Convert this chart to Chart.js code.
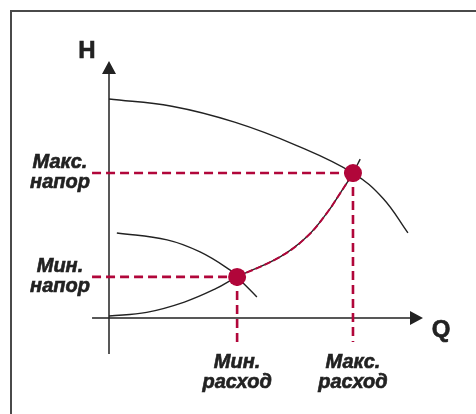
<!DOCTYPE html>
<html>
<head>
<meta charset="utf-8">
<script src="https://cdn.jsdelivr.net/npm/chart.js@4.4.0/dist/chart.umd.min.js"></script>
<style>
  html, body { margin: 0; padding: 0; background: #fff; }
  canvas { display: block; }
</style>
</head>
<body>
<canvas id="myChart" width="476" height="414"></canvas>
<script>
// Q (flow) / H (head) values, axes run 0..100
var pumpMaxQ = [0, 20, 40, 60, 77.7, 87.3, 95.2];
var pumpMaxH = [85.2, 82.4, 76.2, 67.0, 56.4, 46.5, 33.1];

var pumpMinQ = [2.5, 18.5, 29.0, 38.5, 40.8, 47.1];
var pumpMinH = [33.1, 30.4, 25.7, 18.7, 16.0, 8.2];

var systemQ = [0, 12, 24, 34, 40.8, 54.5, 63, 69.3, 73.6, 77.7, 80.0];
var systemH = [0.8, 2.2, 6.2, 11.4, 16.0, 23.8, 31.6, 40.7, 48.5, 56.4, 61.8];

// operating points: [min, max]
var dutyQ = [40.8, 77.7];
var dutyH = [16.0, 56.4];

var headLabels = [['Мин.', 'напор'], ['Макс.', 'напор']];
var flowLabels = [['Мин.', 'расход'], ['Макс.', 'расход']];
var axisTitles = {x: 'Q', y: 'H'};

// how far the guides / axes run past the origin
var guideStartQ = -5.4;
var guideEndH = -9.3;
var axisStartQ = -5.4;
var axisEndH = -14;

var red = '#b1063a';
var ink = '#222222';

function pts(xs, ys) {
  return xs.map(function (x, i) { return {x: x, y: ys[i]}; });
}

var systemRed = pts(systemQ, systemH).filter(function (p) {
  return p.x >= dutyQ[0] && p.x <= dutyQ[1];
});

var guides = [];
for (var i = 0; i < dutyQ.length; i++) {
  guides.push([{x: guideStartQ, y: dutyH[i]}, {x: dutyQ[i], y: dutyH[i]}]);
  guides.push([{x: dutyQ[i], y: dutyH[i]}, {x: dutyQ[i], y: guideEndH}]);
}

var curveStyle = {
  showLine: true, borderColor: ink, borderWidth: 1.4, pointRadius: 0,
  tension: 0.4, clip: false, order: 3
};

var datasets = [
  {
    data: pts(dutyQ, dutyH), showLine: false, pointRadius: 9,
    pointBackgroundColor: red, pointBorderWidth: 0, clip: false, order: 0
  },
  Object.assign({data: pts(pumpMaxQ, pumpMaxH)}, curveStyle),
  Object.assign({data: pts(pumpMinQ, pumpMinH)}, curveStyle),
  Object.assign({data: pts(systemQ, systemH)}, curveStyle),
  {
    data: systemRed, showLine: true, borderColor: red, borderWidth: 2,
    borderDash: [7, 3], pointRadius: 0, tension: 0.4, clip: false, order: 2
  }
];
guides.forEach(function (g) {
  datasets.push({
    data: g, showLine: true, borderColor: red, borderWidth: 2.6,
    borderDash: [9, 5], pointRadius: 0, tension: 0, clip: false, order: 1
  });
});

var decor = {
  id: 'decor',
  beforeDatasetsDraw: function (chart) {
    var c = chart.ctx, xs = chart.scales.x, ys = chart.scales.y;
    var x0 = xs.getPixelForValue(0), y0 = ys.getPixelForValue(0);
    var xEnd = xs.getPixelForValue(100), yEnd = ys.getPixelForValue(100);
    c.save();
    // frame
    c.strokeStyle = '#4a4a4a';
    c.lineWidth = 2;
    c.beginPath();
    c.moveTo(11, chart.height);
    c.lineTo(11, 11);
    c.lineTo(chart.width, 11);
    c.stroke();
    // axes
    c.strokeStyle = ink;
    c.lineWidth = 1.5;
    c.beginPath();
    c.moveTo(x0, ys.getPixelForValue(axisEndH));
    c.lineTo(x0, yEnd + 10);
    c.moveTo(xs.getPixelForValue(axisStartQ), y0);
    c.lineTo(xEnd - 10, y0);
    c.stroke();
    c.fillStyle = ink;
    c.beginPath();
    c.moveTo(x0, yEnd);
    c.lineTo(x0 - 7, yEnd + 13);
    c.lineTo(x0 + 7, yEnd + 13);
    c.closePath();
    c.moveTo(xEnd, y0);
    c.lineTo(xEnd - 13, y0 - 7);
    c.lineTo(xEnd - 13, y0 + 7);
    c.closePath();
    c.fill();
    c.restore();
  },
  afterDraw: function (chart) {
    var c = chart.ctx, xs = chart.scales.x, ys = chart.scales.y;
    var x0 = xs.getPixelForValue(0), y0 = ys.getPixelForValue(0);
    function text(s, x, y) {
      c.fillText(s, x, y);
      c.strokeText(s, x, y);
    }
    c.save();
    c.fillStyle = ink;
    c.strokeStyle = ink;
    c.lineWidth = 0.6;
    c.textAlign = 'center';
    c.textBaseline = 'alphabetic';
    c.font = 'bold 24px "Liberation Sans", Arial, sans-serif';
    text(axisTitles.y, x0 - 22, ys.getPixelForValue(100) - 3);
    text(axisTitles.x, xs.getPixelForValue(100) + 18, y0 + 19);
    c.font = 'italic bold 20px "Liberation Sans", Arial, sans-serif';
    headLabels.forEach(function (lines, i) {
      var y = ys.getPixelForValue(dutyH[i]);
      text(lines[0], x0 - 49, y - 5);
      text(lines[1], x0 - 49, y + 15);
    });
    flowLabels.forEach(function (lines, i) {
      var x = xs.getPixelForValue(dutyQ[i]);
      text(lines[0], x, y0 + 50);
      text(lines[1], x, y0 + 70);
    });
    c.restore();
  }
};

var chart = new Chart(document.getElementById('myChart').getContext('2d'), {
  type: 'scatter',
  data: {datasets: datasets},
  options: {
    responsive: false,
    animation: false,
    devicePixelRatio: 1,
    layout: {padding: {left: 109, right: 53, top: 61, bottom: 96}},
    scales: {
      x: {type: 'linear', min: 0, max: 100, display: false},
      y: {type: 'linear', min: 0, max: 100, display: false}
    },
    plugins: {legend: {display: false}, tooltip: {enabled: false}}
  },
  plugins: [decor]
});
</script>
</body>
</html>
